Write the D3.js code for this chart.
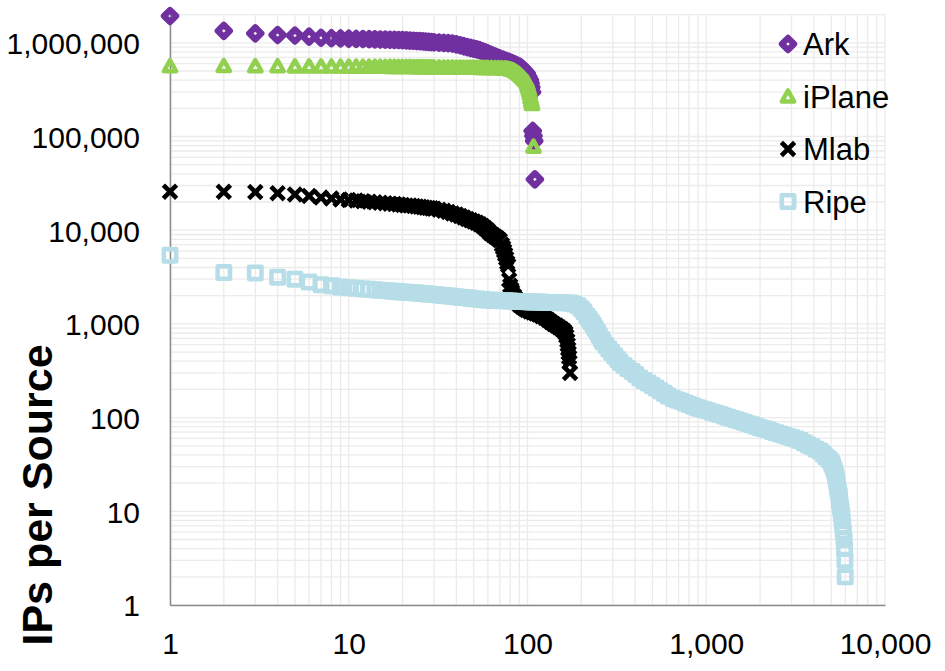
<!DOCTYPE html>
<html>
<head>
<meta charset="utf-8">
<script src="https://cdnjs.cloudflare.com/ajax/libs/d3/7.8.5/d3.min.js"></script>
<style>
  body { margin: 0; background: #fff; }
  text { font-family: "Liberation Sans", Arial, sans-serif; }
</style>
</head>
<body>
<div id="container"></div>
<script>
// Tick labels
const xTicks = [1, 10, 100, 1000, 10000];
const yTicks = [1, 10, 100, 1000, 10000, 100000, 1000000];

// Ark: rank of source, IPs per source
const arkRank = [1, 2, 3, 4, 5, 6, 7, 8, 9, 10, 11, 12, 13, 14, 15, 16, 17, 18, 19, 20,
  21, 22, 23, 24, 25, 26, 27, 28, 29, 30, 32, 34, 36, 38, 40, 42, 44, 46, 48, 50, 52, 54,
  56, 58, 60, 62, 64, 66, 68, 70, 73, 76, 79, 82, 85, 88, 91, 93, 95, 97, 99, 101, 103,
  104, 105, 106, 107, 108, 109, 110];
const arkIPs = [1930000, 1340000, 1260000, 1210000, 1195000, 1165000, 1130000, 1120000,
  1112000, 1105000, 1100000, 1096000, 1092000, 1088000, 1084000, 1080000, 1077000, 1073000,
  1070000, 1066000, 1061000, 1055000, 1050000, 1045000, 1040000, 1034000, 1029000, 1023000,
  1018000, 1012000, 1005000, 997000, 990000, 982000, 962000, 940000, 919000, 898000, 880000,
  865000, 850000, 834000, 812000, 790000, 769000, 748000, 730000, 713000, 696000, 680000,
  661000, 642000, 627000, 607000, 589000, 570000, 552000, 533000, 512000, 491000, 470000,
  436000, 401000, 370000, 335000, 298000, 114500, 101200, 89500, 34900];

// iPlane
const iplaneRank = [1, 2, 3, 4, 5, 6, 7, 8, 9, 10, 11, 12, 13, 14, 15, 16, 17, 18, 19, 20,
  21, 22, 23, 24, 25, 26, 27, 28, 29, 30, 32, 34, 36, 38, 40, 42, 44, 46, 48, 50, 52, 54,
  56, 58, 60, 63, 66, 69, 72, 75, 77, 79, 81, 83, 85, 87, 89, 91, 93, 95, 97, 99, 100, 101,
  102, 103, 104, 105, 106, 108];
const iplaneIPs = [562000, 565000, 563000, 562000, 561000, 560000, 559000, 558500, 558000,
  557500, 557000, 556500, 556000, 555500, 555000, 554500, 554000, 553500, 553000, 552500,
  552000, 551500, 551000, 550500, 550000, 549500, 549000, 548500, 548000, 547500, 547000,
  546000, 545500, 545000, 544000, 543500, 543000, 542500, 542000, 541500, 541000, 540500,
  540000, 539500, 539000, 538000, 537000, 536000, 535000, 533000, 530000, 524000, 517000,
  510000, 497000, 483000, 468000, 451000, 433000, 416000, 398000, 382000, 360000, 335000,
  313000, 288000, 262000, 240000, 222000, 78000];

// Mlab
const mlabRank = [1, 2, 3, 4, 5, 6, 7, 8, 9, 10, 11, 12, 13, 14, 15, 16, 17, 18, 19, 20,
  21, 22, 23, 24, 25, 26, 27, 28, 29, 30, 32, 34, 36, 38, 40, 42, 44, 46, 48, 50, 52, 54,
  56, 58, 60, 62, 64, 66, 68, 70, 72, 73, 74, 75, 76, 77, 78, 79, 80, 81, 82, 84, 86, 88,
  90, 93, 96, 99, 103, 107, 111, 115, 120, 125, 130, 135, 140, 145, 150, 155, 160, 163,
  165, 167, 168, 169, 170, 171, 172, 173];
const mlabIPs = [25800, 25700, 25500, 24800, 24100, 23200, 22300, 21800, 21300, 21000,
  20700, 20400, 20100, 19900, 19600, 19400, 19200, 19000, 18800, 18600, 18400, 18300, 18100,
  17950, 17800, 17600, 17400, 17250, 17100, 16900, 16500, 16100, 15600, 15100, 14700, 14200,
  13700, 13200, 12800, 12400, 12000, 11600, 11100, 10500, 9900, 9300, 8900, 8500, 8200,
  7800, 7000, 6500, 6000, 5500, 5000, 4500, 4200, 2950, 2550, 2350, 2200, 2000, 1850, 1720,
  1600, 1520, 1460, 1410, 1360, 1320, 1290, 1260, 1210, 1160, 1110, 1050, 1000, 960, 920,
  880, 840, 800, 740, 660, 600, 540, 490, 440, 390, 300];

// Ripe
const ripeRank = [1, 2, 3, 4, 5, 6, 7, 8, 9, 10, 11, 12, 13, 14, 15, 16, 17, 18, 19, 20,
  21, 22, 23, 24, 25, 26, 27, 28, 30, 32, 34, 36, 38, 40, 42, 44, 46, 48, 50, 53, 56, 59,
  62, 65, 68, 72, 76, 80, 84, 88, 93, 100, 105, 110, 116, 122, 130, 137, 145, 153, 162, 173,
  182, 192, 200, 207, 215, 221, 227, 233, 239, 246, 252, 259, 264, 275, 285, 296, 308, 320,
  330, 347, 364, 385, 403, 425, 449, 473, 498, 524, 552, 581, 612, 653, 688, 724, 762, 802,
  845, 889, 924, 973, 1025, 1079, 1136, 1196, 1259, 1326, 1396, 1469, 1547, 1629, 1714,
  1805, 1900, 2002, 2109, 2220, 2337, 2460, 2590, 2727, 2871, 3022, 3182, 3349, 3531, 3718,
  3915, 4121, 4338, 4508, 4681, 4863, 4987, 5050, 5115, 5180, 5245, 5290, 5318, 5360, 5393,
  5430, 5458, 5490, 5534, 5555, 5570, 5600, 5640, 5680, 5720, 5760, 5800, 5850, 5900, 5940,
  5970, 5990];
const ripeIPs = [5400, 3530, 3500, 3150, 3000, 2800, 2620, 2550, 2480, 2430, 2395, 2365,
  2340, 2315, 2290, 2270, 2250, 2230, 2210, 2190, 2175, 2162, 2150, 2138, 2118, 2108, 2095,
  2085, 2060, 2035, 2012, 1990, 1968, 1945, 1928, 1912, 1897, 1880, 1861, 1843, 1820, 1800,
  1792, 1784, 1777, 1770, 1762, 1754, 1746, 1738, 1730, 1720, 1716, 1712, 1708, 1704, 1697,
  1692, 1687, 1682, 1677, 1671, 1631, 1558, 1447, 1345, 1214, 1128, 1048, 973, 893, 819,
  752, 690, 646, 588, 540, 495, 454, 417, 387, 360, 334, 310, 289, 265, 249, 234, 220, 207,
  194, 182, 170, 160, 154, 149, 143, 138, 133, 128, 125, 121, 118, 114, 111, 108, 104, 101,
  98, 95, 92, 89, 86, 84, 81, 78, 76, 74, 71, 69, 67, 65, 63, 61, 59, 57, 54, 51, 49, 46,
  44, 41, 38, 36, 34, 32, 30, 28, 26, 24, 23, 21, 20, 18, 17, 16, 15, 14, 13, 12, 11, 10,
  9, 8, 7, 6, 5, 4, 3, 2];

const seriesNames = ["Ark", "iPlane", "Mlab", "Ripe"];

const width = 945;
const height = 671;
const plotLeft = 170;
const plotRight = 885;
const plotTop = 14.6;
const plotBottom = 605;

// marker shapes, drawn as outlines like the Excel markers
const markers = {
  Ark: { d: "M0,-6.1L6.1,0L0,6.1L-6.1,0Z", color: "#7030a0", width: 6.2 },
  iPlane: { d: "M0,-6L6.1,5L-6.1,5Z", color: "#92d050", width: 4.6 },
  Mlab: { d: "M-5,-5L5,5M5,-5L-5,5", color: "#000000", width: 4.6 },
  Ripe: { d: "M-6.2,-6.2H6.2V6.2H-6.2Z", color: "#b7dee8", width: 4.6 },
};

const series = [
  { name: "Ark", points: arkRank.map((r, i) => ({ rank: r, ips: arkIPs[i] })) },
  { name: "iPlane", points: iplaneRank.map((r, i) => ({ rank: r, ips: iplaneIPs[i] })) },
  { name: "Mlab", points: mlabRank.map((r, i) => ({ rank: r, ips: mlabIPs[i] })) },
  { name: "Ripe", points: ripeRank.map((r, i) => ({ rank: r, ips: ripeIPs[i] })) },
];

const svg = d3
  .select("#container")
  .append("svg")
  .attr("width", width)
  .attr("height", height)
  .style("background", "#fff");

const xScale = d3.scaleLog().domain([1, 10000]).range([plotLeft, plotRight]);
const yScale = d3.scaleLog().domain([1, 2000000]).range([plotBottom, plotTop]);

// gridlines, major and minor
const grid = svg.append("g").attr("stroke", "#ebebeb").attr("stroke-width", 1.3);
grid
  .selectAll("line.v")
  .data(xScale.ticks())
  .join("line")
  .attr("class", "v")
  .attr("x1", (d) => xScale(d))
  .attr("x2", (d) => xScale(d))
  .attr("y1", plotTop)
  .attr("y2", plotBottom);
grid
  .selectAll("line.h")
  .data(yScale.ticks())
  .join("line")
  .attr("class", "h")
  .attr("x1", plotLeft)
  .attr("x2", plotRight)
  .attr("y1", (d) => yScale(d))
  .attr("y2", (d) => yScale(d));

// axes
const yAxis = svg
  .append("g")
  .attr("transform", `translate(${plotLeft},0)`)
  .call(
    d3.axisLeft(yScale).tickValues(yTicks).tickFormat(d3.format(",")).tickSize(0).tickPadding(30)
  );
const xAxis = svg
  .append("g")
  .attr("transform", `translate(0,${plotBottom})`)
  .call(
    d3.axisBottom(xScale).tickValues(xTicks).tickFormat(d3.format(",")).tickSize(0).tickPadding(28)
  );
[xAxis, yAxis].forEach((g) => {
  g.select(".domain").attr("stroke", "#8c8c8c").attr("stroke-width", 1.5);
  g.selectAll("text")
    .style("font-size", "30px")
    .style("font-family", '"Liberation Sans", Arial, sans-serif')
    .attr("fill", "#000");
});
yAxis.selectAll("text").attr("dy", "0.36em");

// points
series.forEach((s) => {
  const m = markers[s.name];
  svg
    .append("g")
    .selectAll("path")
    .data(s.points)
    .join("path")
    .attr("transform", (d) => `translate(${xScale(d.rank)},${yScale(d.ips)})`)
    .attr("d", m.d)
    .attr("fill", "none")
    .attr("stroke", m.color)
    .attr("stroke-width", m.width)
    .attr("stroke-linejoin", "round")
    .attr("stroke-linecap", s.name === "Mlab" ? "square" : "butt");
});

// y axis title
svg
  .append("text")
  .attr("transform", "translate(52,495) rotate(-90)")
  .attr("text-anchor", "middle")
  .style("font-size", "43px")
  .style("font-weight", "bold")
  .text("IPs per Source");

// legend
const legend = svg
  .selectAll("g.legend")
  .data(seriesNames)
  .join("g")
  .attr("class", "legend")
  .attr("transform", (d, i) => `translate(788,${44 + i * 52.5})`);
legend
  .append("path")
  .attr("d", (d) => markers[d].d)
  .attr("fill", "none")
  .attr("stroke", (d) => markers[d].color)
  .attr("stroke-width", (d) => markers[d].width)
  .attr("stroke-linejoin", "round")
  .attr("stroke-linecap", (d) => (d === "Mlab" ? "square" : "butt"));
legend
  .append("text")
  .attr("x", 15)
  .attr("y", 11)
  .style("font-size", "31px")
  .text((d) => d);
</script>
</body>
</html>
